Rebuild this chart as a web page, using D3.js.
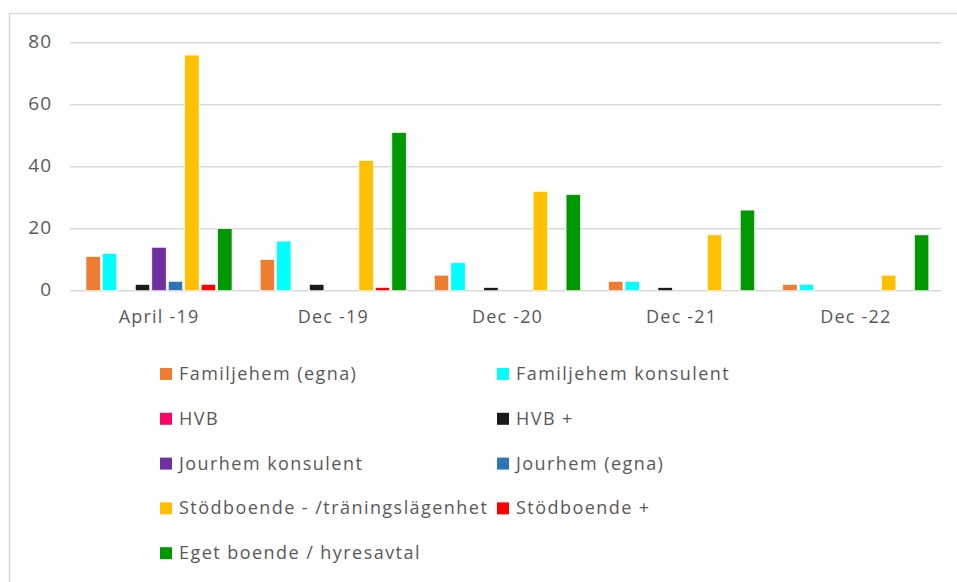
<!DOCTYPE html>
<html>
  <head>
    <meta charset="utf-8" />
    <title>Placeringar</title>
    <script src="https://cdn.jsdelivr.net/npm/d3@7"></script>
    <style type="text/css">
      html, body {
        margin: 0;
        padding: 0;
        background: #fff;
      }
      svg text {
        font-family: "Open Sans", sans-serif;
        fill: #595959;
      }
    </style>
  </head>
  <body>
    <svg id="chart" width="957" height="582"></svg>

    <script type="text/javascript">

    var categories = ['April -19', 'Dec -19', 'Dec -20', 'Dec -21', 'Dec -22'];

    var seriesNames = [
      'Familjehem (egna)',
      'Familjehem konsulent',
      'HVB',
      'HVB +',
      'Jourhem konsulent',
      'Jourhem (egna)',
      'Stödboende - /träningslägenhet',
      'Stödboende +',
      'Eget boende / hyresavtal'
    ];

    // one array per series, one value per category
    var familjehemEgna      = [11, 10, 5, 3, 2];
    var familjehemKonsulent = [12, 16, 9, 3, 2];
    var hvb                 = [0, 0, 0, 0, 0];
    var hvbPlus             = [2, 2, 1, 1, 0];
    var jourhemKonsulent    = [14, 0, 0, 0, 0];
    var jourhemEgna         = [3, 0, 0, 0, 0];
    var stodboende          = [76, 42, 32, 18, 5];
    var stodboendePlus      = [2, 1, 0, 0, 0];
    var egetBoende          = [20, 51, 31, 26, 18];

    var yTicks = [0, 20, 40, 60, 80];

    var seriesValues = [familjehemEgna, familjehemKonsulent, hvb, hvbPlus,
      jourhemKonsulent, jourhemEgna, stodboende, stodboendePlus, egetBoende];

    var colors = ['#ED7D31', '#00FFFF', '#FF0066', '#1A1A1A', '#7030A0',
                  '#2E75B6', '#FFC000', '#FF0000', '#009900'];

    var svg = d3.select('#chart');

    // chart frame (only top and left edges are visible in the shot)
    svg.append('rect')
      .attr('x', 9.5).attr('y', 13.5)
      .attr('width', 1000).attr('height', 1000)
      .attr('fill', 'none')
      .attr('stroke', '#d9d9d9')
      .attr('stroke-width', 1.5);

    var plotLeft = 70, plotRight = 941;

    var y = d3.scaleLinear().domain([0, 80]).range([290.7, 42.7]);

    var x0 = d3.scaleBand().domain(categories).range([plotLeft, plotRight]);

    var x1 = d3.scaleBand()
      .domain(d3.range(seriesNames.length))
      .range([16, 162])
      .paddingInner(0.13);

    // gridlines
    svg.append('g')
      .selectAll('line')
      .data(yTicks)
      .enter()
      .append('line')
        .attr('x1', plotLeft)
        .attr('x2', plotRight)
        .attr('y1', function(d) { return y(d); })
        .attr('y2', function(d) { return y(d); })
        .attr('stroke', '#d9d9d9')
        .attr('stroke-width', 1.5);

    // y axis labels
    var yAxis = d3.axisLeft(y).tickValues(yTicks).tickSize(0).tickPadding(0);
    var yg = svg.append('g')
      .attr('transform', 'translate(52,-1)')
      .call(yAxis);
    yg.select('.domain').remove();
    yg.selectAll('text')
      .style('font-size', '19px')
      .style('letter-spacing', '1px')
      .attr('fill', '#595959');

    // x axis labels
    var xAxis = d3.axisBottom(x0).tickSize(0).tickPadding(0);
    var xg = svg.append('g')
      .attr('transform', 'translate(2,' + 310 + ')')
      .call(xAxis);
    xg.select('.domain').remove();
    xg.selectAll('text')
      .style('font-size', '18px')
      .style('letter-spacing', '1.2px')
      .attr('fill', '#595959');

    // bars
    var groups = svg.append('g')
      .selectAll('g')
      .data(categories)
      .enter()
      .append('g')
        .attr('transform', function(d) { return 'translate(' + x0(d) + ',0)'; });

    groups.selectAll('rect')
      .data(function(d, ci) {
        return seriesValues.map(function(vals, si) { return { s: si, v: vals[ci] }; });
      })
      .enter()
      .filter(function(d) { return d.v > 0; })
      .append('rect')
        .attr('x', function(d) { return x1(d.s); })
        .attr('width', x1.bandwidth())
        .attr('y', function(d) { return y(d.v); })
        .attr('height', function(d) { return y(0) - y(d.v); })
        .attr('fill', function(d) { return colors[d.s]; })
        .attr('stroke', '#fff')
        .attr('stroke-width', 0.6);

    // legend, two columns
    var legend = svg.append('g')
      .selectAll('g')
      .data(seriesNames)
      .enter()
      .append('g')
        .attr('transform', function(d, i) {
          var col = i % 2, row = Math.floor(i / 2);
          return 'translate(' + (col ? 497 : 160) + ',' + (374 + row * 44.8) + ')';
        });

    legend.append('rect')
      .attr('x', 0).attr('y', -6)
      .attr('width', 12).attr('height', 12)
      .attr('fill', function(d, i) { return colors[i]; });

    legend.append('text')
      .attr('x', 19)
      .attr('dy', '0.33em')
      .style('font-size', '18px')
      .style('letter-spacing', '1.45px')
      .text(function(d) { return d; });

    </script>
  </body>
</html>
